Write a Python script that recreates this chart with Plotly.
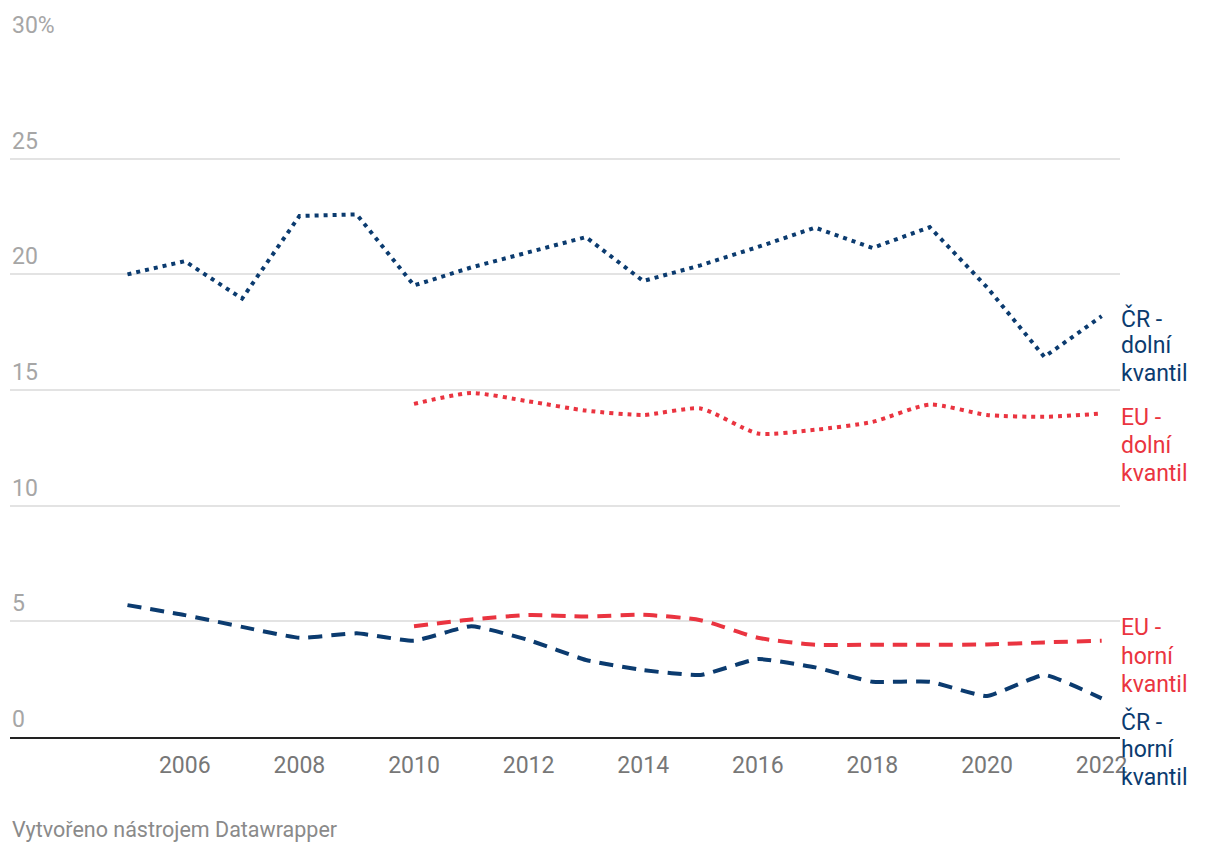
import plotly.graph_objects as go

years_cr = list(range(2005, 2023))
years_eu = list(range(2010, 2023))

cr_dolni = [20.0, 20.57, 18.95, 22.52, 22.59, 19.52, 20.3, 20.95, 21.61, 19.71,
            20.39, 21.18, 22.02, 21.14, 22.04, 19.44, 16.43, 18.19]
eu_dolni = [14.40, 14.87, 14.51, 14.11, 13.92, 14.2, 13.12, 13.28, 13.62, 14.37,
            13.92, 13.84, 13.98]
eu_horni = [4.79, 5.08, 5.27, 5.21, 5.28, 5.05, 4.29, 3.99, 3.99, 3.99, 4.0, 4.09, 4.16]
cr_horni = [5.70, 5.27, 4.76, 4.29, 4.48, 4.16, 4.79, 4.19, 3.33, 2.89, 2.68, 3.37,
            3.01, 2.39, 2.39, 1.77, 2.68, 1.67]

x_ticks = [2006, 2008, 2010, 2012, 2014, 2016, 2018, 2020, 2022]
y_ticks = [0, 5, 10, 15, 20, 25, 30]
y_tick_labels = ["0", "5", "10", "15", "20", "25", "30%"]

series_labels = {
    "cr_dolni": ["ČR -", "dolní", "kvantil"],
    "eu_dolni": ["EU -", "dolní", "kvantil"],
    "eu_horni": ["EU -", "horní", "kvantil"],
    "cr_horni": ["ČR -", "horní", "kvantil"],
}

NAVY = "#0b3b6f"
RED = "#ea3440"
FONT = "Roboto"

# page offset (body margin) compensation
OFF = 8
W, H = 1220, 854
PLOT_LEFT, PLOT_RIGHT, PLOT_TOP, PLOT_BOTTOM = 10, 1120, 42.5, 737
L = PLOT_LEFT - OFF
T = PLOT_TOP - OFF
R = W - (PLOT_RIGHT - OFF)
B = H - (PLOT_BOTTOM - OFF)
plot_h = PLOT_BOTTOM - PLOT_TOP


def py_to_paper(py):
    return (PLOT_BOTTOM - py) / plot_h


fig = go.Figure()
fig.add_trace(go.Scatter(x=years_cr, y=cr_dolni, mode="lines",
                         line=dict(color=NAVY, width=4, dash="4px,5px"),
                         line_shape="linear"))
fig.add_trace(go.Scatter(x=years_eu, y=eu_dolni, mode="lines",
                         line=dict(color=RED, width=4, dash="4px,5px", shape="spline", smoothing=0.6)))
fig.add_trace(go.Scatter(x=years_eu, y=eu_horni, mode="lines",
                         line=dict(color=RED, width=4, dash="14px,9px", shape="spline", smoothing=0.6)))
fig.add_trace(go.Scatter(x=years_cr, y=cr_horni, mode="lines",
                         line=dict(color=NAVY, width=4, dash="14px,9px", shape="spline", smoothing=0.4)))

annotations = []
for v, t in zip(y_ticks, y_tick_labels):
    annotations.append(dict(x=0, xref="paper", xanchor="left", y=v, yref="y",
                            yanchor="bottom", yshift=2, text=t, showarrow=False,
                            font=dict(family=FONT, size=23, color="#a6a6a6")))

label_pos = {
    "cr_dolni": ([318, 345, 373], NAVY),
    "eu_dolni": ([417, 445, 473], RED),
    "eu_horni": ([627, 656, 684], RED),
    "cr_horni": ([721, 750, 778], NAVY),
}
for key, lines in series_labels.items():
    ys, col = label_pos[key]
    for line, py in zip(lines, ys):
        annotations.append(dict(x=1.0, xref="paper", xanchor="left", xshift=-1,
                                y=py_to_paper(py), yref="paper", yanchor="middle",
                                text=line, showarrow=False,
                                font=dict(family=FONT, size=23, color=col)))

annotations.append(dict(x=0, xref="paper", xanchor="left", y=py_to_paper(830),
                        yref="paper", yanchor="middle", text="Vytvořeno nástrojem Datawrapper",
                        showarrow=False, font=dict(family=FONT, size=21.5, color="#8a8a8a")))

fig.update_layout(
    width=W, height=H,
    margin=dict(l=L, r=R, t=T, b=B, pad=0),
    paper_bgcolor="white", plot_bgcolor="white",
    showlegend=False,
    annotations=annotations,
    xaxis=dict(range=[2002.95, 2022.32], tickvals=x_ticks, ticks="",
               showgrid=False, zeroline=False, showline=True, linecolor="#222222",
               linewidth=2, tickfont=dict(family=FONT, size=23, color="#777777"),
               ticklabelstandoff=6),
    yaxis=dict(range=[0, 30], tickvals=y_ticks, showticklabels=False,
               showgrid=True, gridcolor="#e3e3e3", gridwidth=2, zeroline=False),
)

fig.write_html("out.html")
